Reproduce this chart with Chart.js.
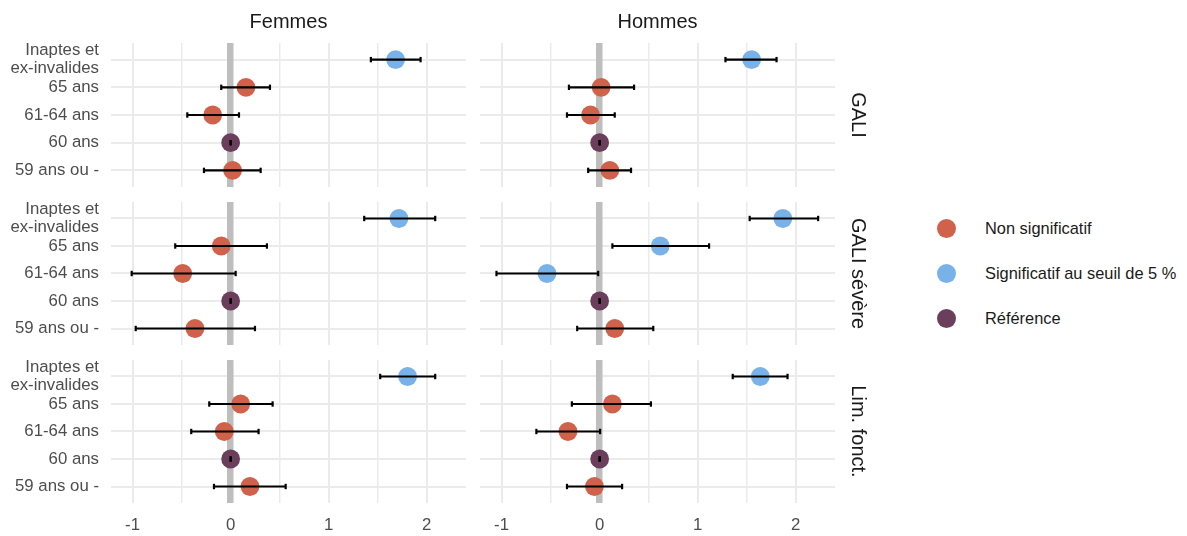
<!DOCTYPE html>
<html lang="fr">
<head>
<meta charset="utf-8">
<title>GALI, GALI sévère, Lim. fonct. - Femmes / Hommes</title>
<script src="https://cdn.jsdelivr.net/npm/chart.js@4.4.1/dist/chart.umd.min.js"></script>
<style>
  html, body { margin: 0; padding: 0; background: #fff; }
  #wrap { position: relative; width: 1187px; height: 536px; overflow: hidden; }
  #wrap canvas { position: absolute; }
  .leg-item {
    position: absolute; left: 937px; height: 20px;
    display: flex; align-items: center;
    font: 16.4px 'Liberation Sans', Arial, sans-serif; color: #1a1a1a; white-space: nowrap;
  }
  .leg-dot { width: 19px; height: 19px; border-radius: 50%; margin-right: 29px; }
</style>
</head>
<body>
<div id="wrap"></div>
<script>
const sexes = ['Femmes', 'Hommes'];
const indicators = ['GALI', 'GALI sévère', 'Lim. fonct.'];
// bottom to top
const ageGroups = ['59 ans ou -', '60 ans', '61-64 ans', '65 ans', ['Inaptes et', 'ex-invalides']];
const xTicks = [-1, -0.5, 0, 0.5, 1, 1.5, 2];
const statusLabels = ['Non significatif', 'Significatif au seuil de 5 %', 'Référence'];
const statusColors = ['#d0614a', '#79b2e8', '#6b3f5c'];

// GALI
const galiFemmesEst = [0.020, 0, -0.183, 0.156, 1.682];
const galiFemmesLow = [-0.272, 0, -0.442, -0.096, 1.430];
const galiFemmesHigh = [0.306, 0, 0.085, 0.401, 1.937];
const galiFemmesStatus = [0, 2, 0, 0, 1];
const galiHommesEst = [0.104, 0, -0.093, 0.015, 1.550];
const galiHommesLow = [-0.117, 0, -0.333, -0.313, 1.283];
const galiHommesHigh = [0.320, 0, 0.154, 0.351, 1.804];
const galiHommesStatus = [0, 2, 0, 0, 1];

// GALI sévère
const severeFemmesEst = [-0.364, 0, -0.489, -0.096, 1.716];
const severeFemmesLow = [-0.968, 0, -1.009, -0.565, 1.362];
const severeFemmesHigh = [0.248, 0, 0.051, 0.370, 2.086];
const severeFemmesStatus = [0, 2, 0, 0, 1];
const severeHommesEst = [0.154, 0, -0.537, 0.618, 1.868];
const severeHommesLow = [-0.229, 0, -1.052, 0.130, 1.530];
const severeHommesHigh = [0.547, 0, -0.015, 1.116, 2.228];
const severeHommesStatus = [0, 2, 1, 1, 1];

// Lim. fonct.
const limFemmesEst = [0.197, 0, -0.065, 0.102, 1.804];
const limFemmesLow = [-0.170, 0, -0.402, -0.218, 1.525];
const limFemmesHigh = [0.561, 0, 0.285, 0.428, 2.086];
const limFemmesStatus = [0, 2, 0, 0, 1];
const limHommesEst = [-0.053, 0, -0.323, 0.130, 1.638];
const limHommesLow = [-0.333, 0, -0.645, -0.283, 1.357];
const limHommesHigh = [0.229, 0, 0.005, 0.523, 1.916];
const limHommesStatus = [0, 2, 0, 0, 1];

const panels = [
  [[galiFemmesEst, galiFemmesLow, galiFemmesHigh, galiFemmesStatus],
   [galiHommesEst, galiHommesLow, galiHommesHigh, galiHommesStatus]],
  [[severeFemmesEst, severeFemmesLow, severeFemmesHigh, severeFemmesStatus],
   [severeHommesEst, severeHommesLow, severeHommesHigh, severeHommesStatus]],
  [[limFemmesEst, limFemmesLow, limFemmesHigh, limFemmesStatus],
   [limHommesEst, limHommesLow, limHommesHigh, limHommesStatus]]
];

// canvas boxes so the plot areas line up like the facets
const rowBox = [
  { top: 0, height: 195, padTop: 0, xAxisH: 8 },
  { top: 195, height: 155, padTop: 7, xAxisH: 5 },
  { top: 350, height: 186, padTop: 10, xAxisH: 33 }
];
const colBox = [
  { left: 0, width: 470, yAxisW: 111, padRight: 4 },
  { left: 470, width: 420, yAxisW: 10, padRight: 0 }
];

Chart.defaults.font.family = "'Liberation Sans', Arial, sans-serif";

const wrap = document.getElementById('wrap');

function makePanel(row, col) {
  const [est, low, high, status] = panels[row][col];
  const rb = rowBox[row];
  const cb = colBox[col];

  const canvas = document.createElement('canvas');
  canvas.width = cb.width;
  canvas.height = rb.height;
  canvas.style.left = cb.left + 'px';
  canvas.style.top = rb.top + 'px';
  wrap.appendChild(canvas);

  const datasets = [];
  ageGroups.forEach((g, i) => {
    datasets.push({
      data: [{ x: low[i], y: i + 1 }, { x: high[i], y: i + 1 }],
      showLine: true,
      borderColor: '#000',
      borderWidth: 2.2,
      pointStyle: 'line',
      pointRotation: 90,
      pointRadius: 2.7,
      pointBorderWidth: 2.2,
      pointBorderColor: '#000',
      order: 0
    });
  });
  datasets.push({
    data: est.map((v, i) => ({ x: v, y: i + 1 })),
    pointRadius: 9.4,
    pointBorderWidth: 0,
    pointBackgroundColor: status.map(s => statusColors[s]),
    pointBorderColor: status.map(s => statusColors[s]),
    order: 1
  });

  new Chart(canvas, {
    type: 'scatter',
    data: { datasets: datasets },
    options: {
      responsive: false,
      animation: false,
      events: [],
      layout: {
        autoPadding: false,
        padding: { top: rb.padTop, right: cb.padRight, left: 0, bottom: 0 }
      },
      plugins: {
        legend: { display: false },
        tooltip: { enabled: false },
        title: {
          display: row === 0,
          text: sexes[col],
          position: 'top',
          fullSize: false,
          color: '#1a1a1a',
          font: { size: 20, weight: 'normal', lineHeight: 1.2 },
          padding: { top: 10, bottom: 9 }
        },
        subtitle: {
          display: col === 1,
          text: indicators[row],
          position: 'right',
          fullSize: false,
          color: '#1a1a1a',
          font: { size: 20, weight: 'normal', lineHeight: 1.2 },
          padding: { top: 20, bottom: 11 }
        }
      },
      scales: {
        y: {
          type: 'linear',
          min: 0.4,
          max: 5.6,
          afterBuildTicks: s => { s.ticks = ageGroups.map((g, i) => ({ value: i + 1 })); },
          afterFit: s => { s.width = cb.yAxisW; s.paddingTop = 0; s.paddingBottom = 0; },
          ticks: {
            display: col === 0,
            autoSkip: false,
            padding: 12,
            color: '#4d4d4d',
            font: { size: 16.8, lineHeight: 1.1 },
            callback: v => ageGroups[v - 1]
          },
          grid: { color: '#ebebeb', lineWidth: 2, drawTicks: false, z: -2 },
          border: { display: false }
        },
        x: {
          type: 'linear',
          min: -1.22,
          max: 2.40,
          afterBuildTicks: s => { s.ticks = xTicks.map(v => ({ value: v })); },
          afterFit: s => { s.height = rb.xAxisH; s.paddingLeft = 0; s.paddingRight = 0; },
          ticks: {
            display: row === 2,
            padding: 12,
            color: '#4d4d4d',
            font: { size: 16.8 },
            autoSkip: false,
            maxRotation: 0,
            callback: v => Number.isInteger(v) ? String(v) : ''
          },
          grid: {
            drawTicks: false,
            z: -1,
            color: c => (c.tick && c.tick.value === 0) ? '#bebebe' : '#ebebeb',
            lineWidth: c => {
              if (!c.tick) return 2;
              if (c.tick.value === 0) return 6.5;
              return Number.isInteger(c.tick.value) ? 2 : 1.5;
            }
          },
          border: { display: false }
        }
      }
    }
  });
}

for (let r = 0; r < indicators.length; r++) {
  for (let c = 0; c < sexes.length; c++) {
    makePanel(r, c);
  }
}

// legend
statusLabels.forEach((lab, i) => {
  const item = document.createElement('div');
  item.className = 'leg-item';
  item.style.top = (228 + 45 * i - 10) + 'px';
  const dot = document.createElement('span');
  dot.className = 'leg-dot';
  dot.style.background = statusColors[i];
  const txt = document.createElement('span');
  txt.textContent = lab;
  item.appendChild(dot);
  item.appendChild(txt);
  wrap.appendChild(item);
});
</script>
</body>
</html>
